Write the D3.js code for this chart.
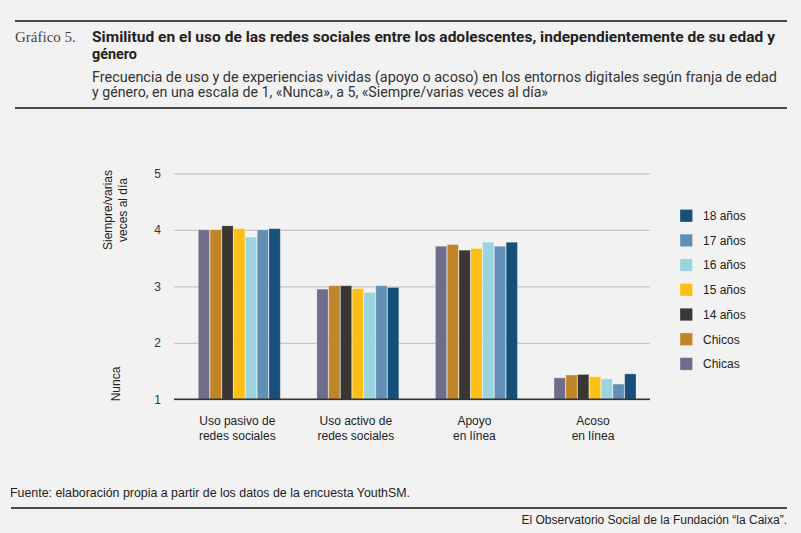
<!DOCTYPE html>
<html>
<head>
<meta charset="utf-8">
<script src="https://cdn.jsdelivr.net/npm/d3@7"></script>
<style>
  body { margin: 0; background: #f2f2f2; }
  svg { display: block; }
  .tick line { stroke: #c6c6c6; }
</style>
</head>
<body>
<svg id="chart" width="801" height="533"></svg>
<script>
// datos
const categories = ["Uso pasivo de redes sociales", "Uso activo de redes sociales", "Apoyo en línea", "Acoso en línea"];
const categoryLabels = [["Uso pasivo de", "redes sociales"], ["Uso activo de", "redes sociales"], ["Apoyo", "en línea"], ["Acoso", "en línea"]];
const series = ["Chicas", "Chicos", "14 años", "15 años", "16 años", "17 años", "18 años"];
const chicas = [4.00, 2.95, 3.71, 1.38];
const chicos = [4.00, 3.01, 3.74, 1.43];
const edad14 = [4.07, 3.01, 3.64, 1.44];
const edad15 = [4.02, 2.96, 3.67, 1.40];
const edad16 = [3.87, 2.89, 3.78, 1.36];
const edad17 = [4.00, 3.01, 3.71, 1.27];
const edad18 = [4.02, 2.98, 3.78, 1.45];
const yTicks = [1, 2, 3, 4, 5];
const colors = ["#6e6e8c", "#bf8528", "#3a3631", "#fdbf17", "#9bd3de", "#6290b5", "#154f7a"];

const values = [chicas, chicos, edad14, edad15, edad16, edad17, edad18];
const rows = [];
categories.forEach((c, ci) => {
    series.forEach((s, si) => {
        rows.push({ cat: c, serie: s, value: values[si][ci] });
    });
});

const svg = d3.select('#chart');
const font = "'Liberation Sans', Arial, sans-serif";

svg.append('rect').attr('width', 801).attr('height', 533).attr('fill', '#f2f2f2');

// cabecera
svg.append('line').attr('x1', 15).attr('x2', 787).attr('y1', 21).attr('y2', 21)
    .attr('stroke', '#4a4a4a').attr('stroke-width', 2);
svg.append('line').attr('x1', 15).attr('x2', 787).attr('y1', 108).attr('y2', 108)
    .attr('stroke', '#4a4a4a').attr('stroke-width', 2);

svg.append('text').attr('x', 15).attr('y', 42)
    .style('font-family', "'Liberation Serif', 'DejaVu Serif', serif")
    .style('font-size', '15px').attr('fill', '#444')
    .text('Gráfico 5.');

svg.append('text').attr('x', 92).attr('y', 42)
    .attr('textLength', 683).attr('lengthAdjust', 'spacingAndGlyphs')
    .style('font-family', "Roboto, sans-serif").style('font-weight', 'bold')
    .style('font-size', '14px').attr('fill', '#222')
    .text('Similitud en el uso de las redes sociales entre los adolescentes, independientemente de su edad y');
svg.append('text').attr('x', 92).attr('y', 59)
    .attr('textLength', 45).attr('lengthAdjust', 'spacingAndGlyphs')
    .style('font-family', "Roboto, sans-serif").style('font-weight', 'bold')
    .style('font-size', '14px').attr('fill', '#222')
    .text('género');

svg.append('text').attr('x', 92).attr('y', 82)
    .attr('textLength', 685).attr('lengthAdjust', 'spacingAndGlyphs')
    .style('font-family', "Roboto, sans-serif")
    .style('font-size', '14px').attr('fill', '#333')
    .text('Frecuencia de uso y de experiencias vividas (apoyo o acoso) en los entornos digitales según franja de edad');
svg.append('text').attr('x', 92).attr('y', 97)
    .attr('textLength', 456).attr('lengthAdjust', 'spacingAndGlyphs')
    .style('font-family', "Roboto, sans-serif")
    .style('font-size', '14px').attr('fill', '#333')
    .text('y género, en una escala de 1, «Nunca», a 5, «Siempre/varias veces al día»');

// escalas
const plotLeft = 174, plotRight = 650;
const y = d3.scaleLinear().domain([1, 5]).range([399.3, 173.3]);
const x0 = d3.scaleBand().domain(categories).range([180, 654.3]);
const groupW = 82;
const x1 = d3.scaleBand().domain(series)
    .range([(x0.bandwidth() - groupW) / 2, (x0.bandwidth() + groupW) / 2])
    .paddingInner(0.04);

// rejilla y eje y
const yAxis = svg.append('g')
    .attr('transform', `translate(${plotLeft},0)`)
    .call(d3.axisLeft(y).tickValues(yTicks).tickSize(-(plotRight - plotLeft)).tickPadding(13).tickFormat(d3.format('d')));
yAxis.select('.domain').remove();
yAxis.selectAll('.tick line').attr('stroke', '#c6c6c6').attr('stroke-width', 1.2);
yAxis.selectAll('.tick text')
    .style('font-family', font).style('font-size', '12px').attr('fill', '#333');

// barras
svg.append('g').selectAll('rect')
    .data(rows)
    .enter().append('rect')
        .attr('x', d => x0(d.cat) + x1(d.serie))
        .attr('y', d => y(d.value))
        .attr('width', x1.bandwidth())
        .attr('height', d => y(1) - y(d.value))
        .attr('fill', d => colors[series.indexOf(d.serie)])
        .attr('stroke', 'rgba(255,255,255,0.35)')
        .attr('stroke-width', 0.8);

// linea base
svg.append('line').attr('x1', plotLeft).attr('x2', plotRight)
    .attr('y1', y(1)).attr('y2', y(1))
    .attr('stroke', '#333').attr('stroke-width', 1.6);

// eje x
const xAxis = svg.append('g')
    .attr('transform', `translate(0,${y(1)})`)
    .call(d3.axisBottom(x0).tickSize(0).tickFormat(''));
xAxis.select('.domain').remove();
xAxis.selectAll('.tick').each(function(d) {
    const lines = categoryLabels[categories.indexOf(d)];
    const t = d3.select(this).append('text')
        .attr('text-anchor', 'middle')
        .style('font-family', font).style('font-size', '12px').attr('fill', '#222');
    lines.forEach((l, i) => {
        t.append('tspan').attr('x', -2).attr('y', 26 + i * 15).text(l);
    });
});

// titulo eje y
const yLabel = svg.append('text')
    .attr('transform', 'translate(0,210) rotate(-90)')
    .attr('text-anchor', 'middle')
    .style('font-family', font).style('font-size', '12px').attr('fill', '#222');
yLabel.append('tspan').attr('x', 0).attr('y', 111.5).text('Siempre/varias');
yLabel.append('tspan').attr('x', 0).attr('y', 127).text('veces al día');

svg.append('text')
    .attr('transform', 'translate(120,384) rotate(-90)')
    .attr('text-anchor', 'middle')
    .style('font-family', font).style('font-size', '12px').attr('fill', '#222')
    .text('Nunca');

// leyenda
const legendSeries = series.slice().reverse();
const legend = svg.append('g').selectAll('g')
    .data(legendSeries)
    .enter().append('g')
        .attr('transform', (d, i) => `translate(680,${215.7 + i * 24.7})`);
legend.append('rect')
    .attr('x', 0).attr('y', -6.3)
    .attr('width', 12.6).attr('height', 12.6)
    .attr('fill', d => colors[series.indexOf(d)])
    .attr('stroke', 'rgba(255,255,255,0.4)').attr('stroke-width', 0.8);
legend.append('text')
    .attr('x', 23).attr('y', 4.3)
    .style('font-family', font).style('font-size', '12px').attr('fill', '#222')
    .text(d => d);

// pie
svg.append('text').attr('x', 10).attr('y', 497)
    .attr('textLength', 400).attr('lengthAdjust', 'spacingAndGlyphs')
    .style('font-family', font).style('font-size', '12px').attr('fill', '#222')
    .text('Fuente: elaboración propia a partir de los datos de la encuesta YouthSM.');
svg.append('line').attr('x1', 11).attr('x2', 787).attr('y1', 508).attr('y2', 508)
    .attr('stroke', '#4a4a4a').attr('stroke-width', 2);
svg.append('text').attr('x', 787).attr('y', 524)
    .attr('text-anchor', 'end')
    .style('font-family', font).style('font-size', '12px').attr('fill', '#222')
    .text('El Observatorio Social de la Fundación “la Caixa”.');
</script>
</body>
</html>
